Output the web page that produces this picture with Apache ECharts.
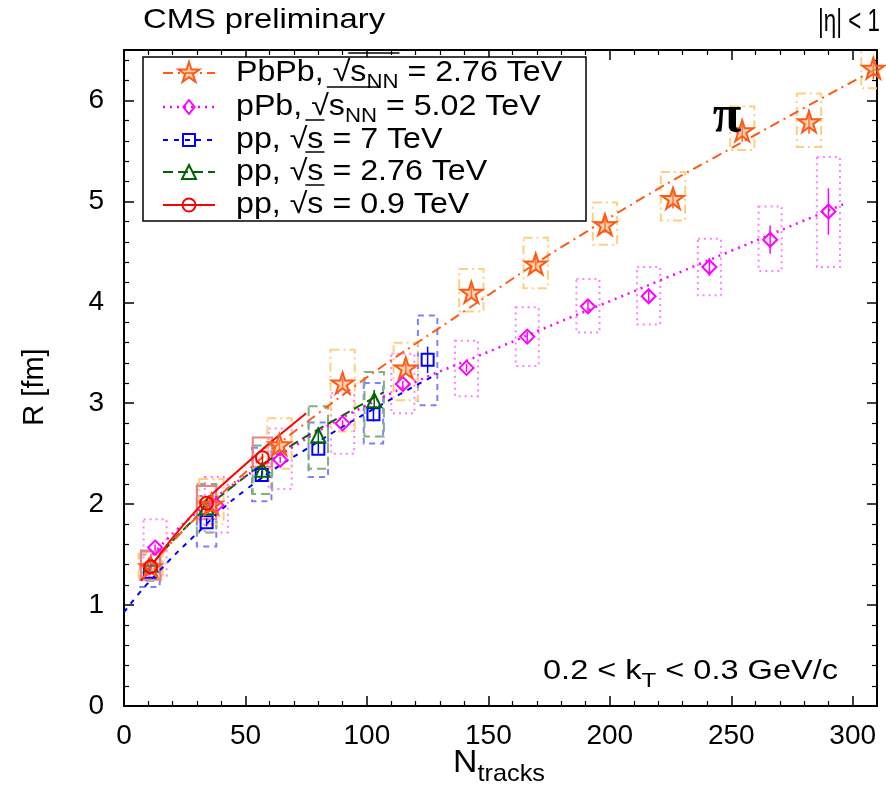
<!DOCTYPE html>
<html><head><meta charset="utf-8">
<script src="https://cdn.jsdelivr.net/npm/echarts@6/dist/echarts.min.js"></script>
<style>html,body{margin:0;padding:0;background:#fff}#c{width:886px;height:810px}</style>
</head><body><div id="c"></div>
<script>
// ---------- data ----------
const xTickLabels = ['0','50','100','150','200','250','300'];
const yTickLabels = ['0','1','2','3','4','5','6'];

const pbpbX = [11, 36, 64, 90, 116, 143, 169.5, 198, 226, 254.5, 282, 308.5];
const pbpbR = [1.38, 2.00, 2.59, 3.20, 3.35, 4.10, 4.38, 4.77, 5.03, 5.70, 5.79, 6.32];
const pbpbStat = [0.04, 0.04, 0.05, 0.05, 0.05, 0.06, 0.07, 0.08, 0.10, 0.11, 0.12, 0.11];
const pbpbSysLo = [1.25, 1.80, 2.35, 2.72, 3.03, 3.91, 4.14, 4.57, 4.81, 5.51, 5.54, 6.12];
const pbpbSysHi = [1.51, 2.25, 2.85, 3.53, 3.60, 4.33, 4.64, 4.99, 5.29, 5.94, 6.07, 6.55];
const pbpbFitX = [15, 40, 80, 140, 200, 260, 311];
const pbpbFitR = [1.50, 2.10, 2.90, 3.91, 4.84, 5.66, 6.33];

const ppbX = [12.8, 38, 64.3, 90, 114.8, 141, 166, 191, 216, 241, 266, 290];
const ppbR = [1.57, 1.99, 2.44, 2.80, 3.19, 3.35, 3.66, 3.96, 4.06, 4.35, 4.62, 4.90];
const ppbStat = [0.03, 0.03, 0.03, 0.03, 0.03, 0.04, 0.05, 0.06, 0.06, 0.09, 0.14, 0.23];
const ppbSysLo = [1.29, 1.72, 2.15, 2.50, 2.90, 3.07, 3.37, 3.70, 3.78, 4.07, 4.31, 4.35];
const ppbSysHi = [1.85, 2.27, 2.75, 3.10, 3.49, 3.62, 3.95, 4.23, 4.35, 4.63, 4.95, 5.44];
const ppbFitX = [10, 30, 65, 105, 155, 220, 296];
const ppbFitR = [1.45, 1.92, 2.50, 3.04, 3.56, 4.21, 4.97];

const pp7X = [10.7, 34, 56.7, 80, 102.7, 125];
const pp7R = [1.33, 1.82, 2.29, 2.55, 2.89, 3.43];
const pp7Stat = [0.03, 0.04, 0.04, 0.05, 0.07, 0.13];
const pp7SysLo = [1.18, 1.58, 2.03, 2.27, 2.60, 2.98];
const pp7SysHi = [1.50, 2.08, 2.56, 2.81, 3.20, 3.87];
const pp7FitX = [0, 10, 30, 50, 80, 110, 129];
const pp7FitR = [0.93, 1.22, 1.71, 2.14, 2.62, 3.04, 3.29];

const pp276X = [11, 34, 57, 80, 103];
const pp276R = [1.40, 1.97, 2.34, 2.68, 3.03];
const pp276Stat = [0.03, 0.04, 0.05, 0.08, 0.10];
const pp276SysLo = [1.24, 1.72, 2.10, 2.35, 2.67];
const pp276SysHi = [1.54, 2.20, 2.58, 2.97, 3.31];
const pp276FitX = [8, 25, 45, 65, 85, 107];
const pp276FitR = [1.30, 1.76, 2.18, 2.52, 2.81, 3.11];

const pp09X = [11, 34, 57];
const pp09R = [1.38, 2.01, 2.46];
const pp09Stat = [0.03, 0.03, 0.04];
const pp09SysLo = [1.25, 1.85, 2.37];
const pp09SysHi = [1.53, 2.18, 2.66];
const pp09FitX = [7, 25, 45, 75];
const pp09FitR = [1.24, 1.81, 2.29, 2.90];

// ---------- helpers ----------
const FONT = '"Liberation Sans", "DejaVu Sans", Arial, sans-serif';
function zip(a, b) { return a.map((v, i) => [v, b[i]]); }

function starPath() {
  let d = '';
  for (let i = 0; i < 10; i++) {
    const r = i % 2 ? 19 : 50;
    const a = -Math.PI / 2 + i * Math.PI / 5;
    d += (i ? 'L' : 'M') + (50 + r * Math.cos(a)).toFixed(2) + ' ' + (50 + r * Math.sin(a)).toFixed(2) + ' ';
  }
  return 'path://' + d + 'Z';
}
const STAR = starPath();

const groups = [
  { name: 'pp7', x: pp7X, r: pp7R, st: pp7Stat, lo: pp7SysLo, hi: pp7SysHi, fx: pp7FitX, fr: pp7FitR,
    color: '#0000ff', box: '#8080ff', boxDash: [6, 5], boxW: 8, lineDash: [5, 6], lineW: 2,
    symbol: 'rect', size: 12, fill: 'rgba(0,0,0,0)' },
  { name: 'pp276', x: pp276X, r: pp276R, st: pp276Stat, lo: pp276SysLo, hi: pp276SysHi, fx: pp276FitX, fr: pp276FitR,
    color: '#006400', box: '#80b080', boxDash: [9, 5], boxW: 8, lineDash: [10, 5], lineW: 2,
    symbol: 'triangle', size: 14, fill: 'rgba(0,0,0,0)' },
  { name: 'ppb', x: ppbX, r: ppbR, st: ppbStat, lo: ppbSysLo, hi: ppbSysHi, fx: ppbFitX, fr: ppbFitR,
    color: '#ff00ff', box: '#ff80ff', boxDash: [2, 4], boxW: 9.5, lineDash: [2, 5], lineW: 2.5,
    symbol: 'diamond', size: 14, fill: 'rgba(0,0,0,0)' },
  { name: 'pbpb', x: pbpbX, r: pbpbR, st: pbpbStat, lo: pbpbSysLo, hi: pbpbSysHi, fx: pbpbFitX, fr: pbpbFitR,
    color: '#ff5a14', box: '#ffcf80', boxDash: [9, 4, 2, 4], boxW: 10, lineDash: [10, 5, 2, 5], lineW: 2,
    symbol: STAR, size: 22, fill: 'rgba(255,150,90,0.45)' },
  { name: 'pp09', x: pp09X, r: pp09R, st: pp09Stat, lo: pp09SysLo, hi: pp09SysHi, fx: pp09FitX, fr: pp09FitR,
    color: '#ff0000', box: '#f08080', boxDash: null, boxW: 8, lineDash: null, lineW: 2,
    symbol: 'circle', size: 13, fill: 'rgba(0,0,0,0)' }
];

const series = [];
groups.forEach(g => {
  series.push({
    type: 'custom', name: g.name + '-sys', z: 1, clip: true,
    data: g.x.map((v, i) => [v, g.lo[i], g.hi[i]]),
    renderItem: (params, api) => {
      const x = api.value(0), lo = api.value(1), hi = api.value(2);
      const p1 = api.coord([x - g.boxW / 2, hi]);
      const p2 = api.coord([x + g.boxW / 2, lo]);
      return { type: 'rect', shape: { x: p1[0], y: p1[1], width: p2[0] - p1[0], height: p2[1] - p1[1] },
        style: { fill: 'none', stroke: g.box, lineWidth: 2, lineDash: g.boxDash || undefined } };
    }
  });
});
groups.forEach(g => {
  series.push({
    type: 'line', name: g.name + '-fit', z: 2, data: zip(g.fx, g.fr), showSymbol: false, symbol: 'none',
    smooth: 0.5, silent: true,
    lineStyle: { color: g.color, width: g.lineW, type: g.lineDash || 'solid' }
  });
});
groups.forEach(g => {
  series.push({
    type: 'custom', name: g.name + '-stat', z: 3, clip: true,
    data: g.x.map((v, i) => [v, g.r[i] - g.st[i], g.r[i] + g.st[i]]),
    renderItem: (params, api) => {
      const x = api.value(0);
      const a = api.coord([x, api.value(1)]), b = api.coord([x, api.value(2)]);
      return { type: 'line', shape: { x1: a[0], y1: a[1], x2: b[0], y2: b[1] },
        style: { stroke: g.color, lineWidth: 1.5 } };
    }
  });
  series.push({
    type: 'scatter', name: g.name, z: 4, data: zip(g.x, g.r), symbol: g.symbol, symbolSize: g.size,
    symbolKeepAspect: true,
    itemStyle: { color: g.fill, borderColor: g.color, borderWidth: 2, opacity: 1 }
  });
});

// ---------- rich text via graphics ----------
const measureCtx = document.createElement('canvas').getContext('2d');
function textW(t, size, fam) { measureCtx.font = size + 'px ' + (fam || FONT); return measureCtx.measureText(t).width; }
// segs: [text, size, dy, overline]; opts: {align, target, k}
function richLine(x, y, segs, opts) {
  opts = opts || {};
  const els = [];
  let total = 0; segs.forEach(s => total += textW(s[0], s[1]));
  const k = opts.target ? opts.target / total : (opts.k || 1);
  let cx = opts.align === 'right' ? x - total * k : x;
  let ovStart = null, ovEnd = null;
  segs.forEach(s => {
    const w = textW(s[0], s[1]) * k;
    els.push({ type: 'text', z: 100, x: cx, y: y + (s[2] || 0), scaleX: k,
      style: { text: s[0], x: 0, y: 0, font: s[1] + 'px ' + FONT,
        fill: '#000', textAlign: 'left', textVerticalAlign: 'middle', align: 'left', verticalAlign: 'middle' } });
    if (s[3]) { if (ovStart === null) ovStart = cx - 2; ovEnd = cx + w; }
    cx += w;
  });
  if (ovStart !== null) {
    els.push({ type: 'line', z: 100, shape: { x1: ovStart, y1: y - 20, x2: ovEnd + 1, y2: y - 20 },
      style: { stroke: '#000', lineWidth: 1.5 } });
  }
  return els;
}

const LX = 143, LY = 57, LW = 443, LH = 164;
const LK = 1.11, LF = 29;
const legendRows = [
  { y: 73, g: groups[3], segs: [['PbPb, √', LF], ['s', LF, 0, true], ['NN', 20, 9, true], [' = 2.76 TeV', LF]] },
  { y: 107, g: groups[2], segs: [['pPb, √', LF], ['s', LF, 0, true], ['NN', 20, 9, true], [' = 5.02 TeV', LF]] },
  { y: 140, g: groups[0], segs: [['pp, √', LF], ['s', LF, 0, true], [' = 7 TeV', LF]] },
  { y: 172, g: groups[1], segs: [['pp, √', LF], ['s', LF, 0, true], [' = 2.76 TeV', LF]] },
  { y: 205, g: groups[4], segs: [['pp, √', LF], ['s', LF, 0, true], [' = 0.9 TeV', LF]] }
];

function legendSymbol(g, cx, cy) {
  const st = { fill: g.fill, stroke: g.color, lineWidth: 2 };
  const s = g.size / 2;
  if (g.symbol === 'rect') return { type: 'rect', z: 101, shape: { x: cx - s, y: cy - s, width: 2 * s, height: 2 * s }, style: st };
  if (g.symbol === 'circle') return { type: 'circle', z: 101, shape: { cx: cx, cy: cy, r: s }, style: st };
  if (g.symbol === 'diamond') return { type: 'polygon', z: 101, shape: { points: [[cx, cy - s], [cx + s * 0.8, cy], [cx, cy + s], [cx - s * 0.8, cy]] }, style: st };
  if (g.symbol === 'triangle') return { type: 'polygon', z: 101, shape: { points: [[cx, cy - s], [cx + s, cy + s], [cx - s, cy + s]] }, style: st };
  const pts = [];
  for (let i = 0; i < 10; i++) { const r = (i % 2 ? 0.38 : 1) * s; const a = -Math.PI / 2 + i * Math.PI / 5; pts.push([cx + r * Math.cos(a), cy + r * Math.sin(a)]); }
  return { type: 'polygon', z: 101, shape: { points: pts }, style: st };
}

const graphics = [];
graphics.push({ type: 'rect', z: 99, shape: { x: LX, y: LY, width: LW, height: LH }, style: { fill: '#fff', stroke: '#000', lineWidth: 1.5 } });
legendRows.forEach(row => {
  graphics.push({ type: 'line', z: 100, shape: { x1: 163, y1: row.y, x2: 215, y2: row.y },
    style: { stroke: row.g.color, lineWidth: row.g.lineW, lineDash: row.g.lineDash || undefined } });
  graphics.push(legendSymbol(row.g, 189, row.y));
  richLine(236, row.y, row.segs, { k: LK }).forEach(e => graphics.push(e));
});
// annotations
richLine(143, 20, [['CMS preliminary', 28]], { target: 242 }).forEach(e => graphics.push(e));
richLine(880, 22, [['|η| < 1', 31]], { target: 62, align: 'right' }).forEach(e => graphics.push(e));
graphics.push({ type: 'text', z: 100, style: { text: 'π', x: 727, y: 118, font: 'bold 52px "Liberation Serif", "DejaVu Serif", serif', fill: '#000', textAlign: 'center', align: 'center', textVerticalAlign: 'middle', verticalAlign: 'middle' } });
richLine(838, 672, [['0.2 < k', 27], ['T', 20, 9], [' < 0.3 GeV/c', 27]], { align: 'right', target: 295 }).forEach(e => graphics.push(e));
// axis names
richLine(453, 763, [['N', 32], ['tracks', 24, 11]], { target: 92 }).forEach(e => graphics.push(e));
graphics.push({ type: 'text', z: 100, rotation: Math.PI / 2, x: 35, y: 387,
  style: { text: 'R [fm]', x: 0, y: 0, font: '29px ' + FONT, fill: '#000', textAlign: 'center', align: 'center', textVerticalAlign: 'middle', verticalAlign: 'middle' } });

// ---------- axes ----------
const axisCommon = {
  type: 'value',
  axisLine: { show: true, onZero: false, lineStyle: { color: '#000', width: 2 } },
  axisTick: { show: true, inside: true, length: 10, lineStyle: { color: '#000', width: 1.5 } },
  minorTick: { show: true, splitNumber: 5, length: 5, lineStyle: { color: '#000', width: 1.2 } },
  splitLine: { show: false }, minorSplitLine: { show: false }
};
const xFmt = v => { const i = Math.round(v / 50); return (Math.abs(v - i * 50) < 1e-6 && xTickLabels[i] !== undefined) ? xTickLabels[i] : ''; };
const yFmt = v => { const i = Math.round(v); return (Math.abs(v - i) < 1e-6 && yTickLabels[i] !== undefined) ? yTickLabels[i] : ''; };

const option = {
  animation: false,
  backgroundColor: '#fff',
  grid: { left: 124, right: 9, top: 50, bottom: 104, containLabel: false },
  xAxis: [
    Object.assign({}, axisCommon, { position: 'bottom', min: 0, max: 310, interval: 50,
      axisLabel: { show: true, margin: 16, fontSize: 28, fontFamily: FONT, color: '#000', formatter: xFmt, showMaxLabel: false } }),
    Object.assign({}, axisCommon, { position: 'top', min: 0, max: 310, interval: 50, axisLabel: { show: false } })
  ],
  yAxis: [
    Object.assign({}, axisCommon, { position: 'left', min: 0, max: 6.5, interval: 1,
      axisLabel: { show: true, margin: 20, fontSize: 28, fontFamily: FONT, color: '#000', formatter: yFmt, showMaxLabel: false } }),
    Object.assign({}, axisCommon, { position: 'right', min: 0, max: 6.5, interval: 1, axisLabel: { show: false } })
  ],
  series: series,
  graphic: { elements: graphics }
};
const chart = echarts.init(document.getElementById('c'), null, { renderer: 'canvas' });
chart.setOption(option);
</script></body></html>
